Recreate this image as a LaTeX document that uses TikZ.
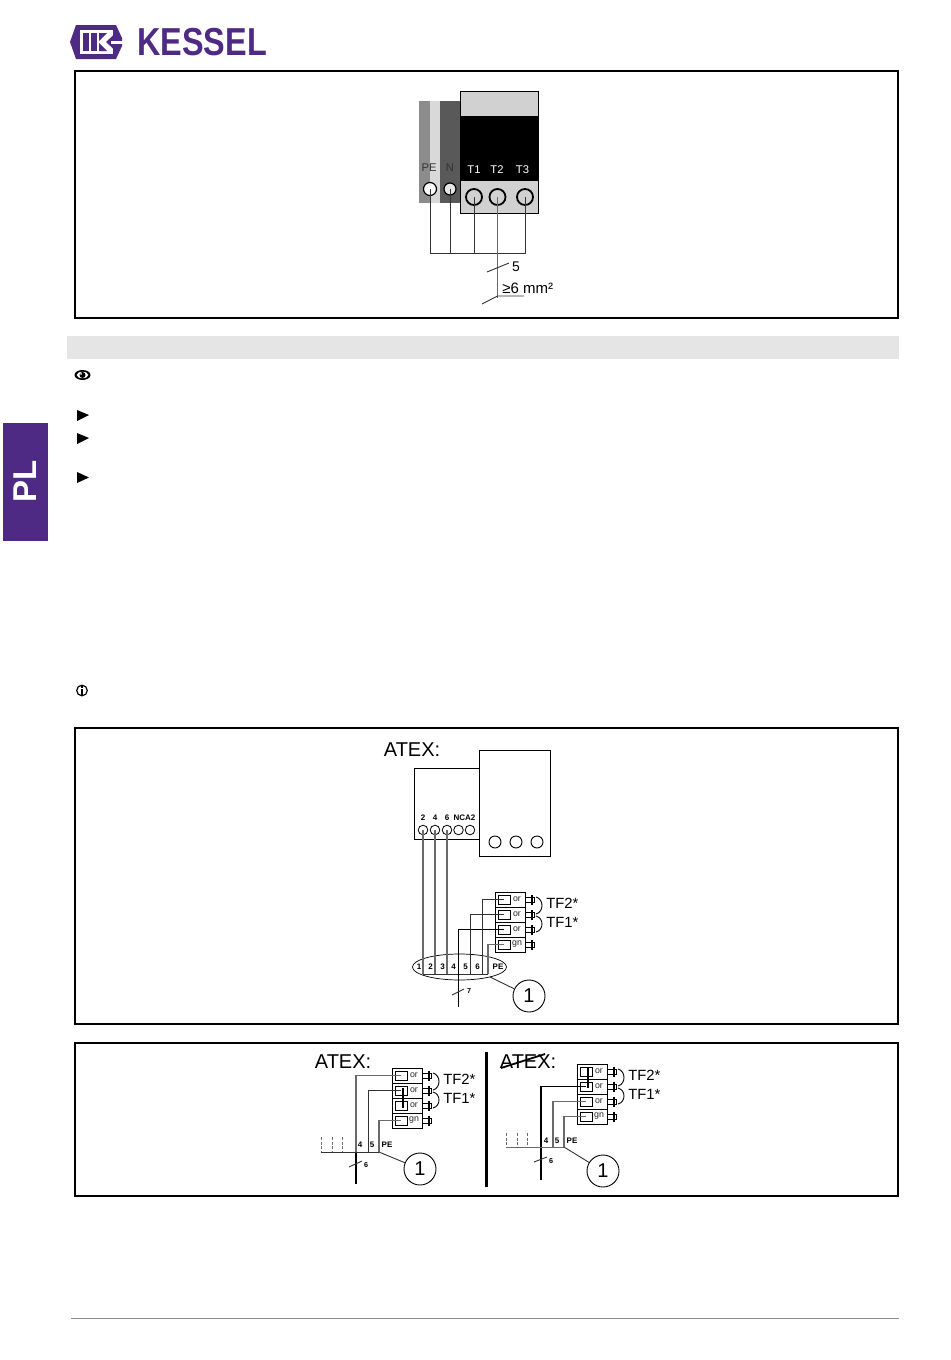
\documentclass[tikz,border=0pt]{standalone}
\usepackage{fontspec}
\usepackage{graphicx}
\usetikzlibrary{shapes.geometric}
\setmainfont{Liberation Sans}
\definecolor{kpurple}{HTML}{4E2A84}
\definecolor{wiregrey}{HTML}{6A6A6A}
\tikzset{
  frame/.style={draw=black,line width=0.75pt},
  wire/.style={draw=black!80,line width=0.45pt},
  greywire/.style={draw=wiregrey,line width=0.6pt},
  heavywire/.style={draw=black,line width=0.75pt},
  smalllabel/.style={font=\bfseries\fontsize{4}{5}\selectfont,inner sep=0pt},
  cell/.style={font=\fontsize{4.4}{5}\selectfont,text=black!85,inner sep=0pt},
  tflabel/.style={font=\fontsize{7.4}{9}\selectfont,inner sep=0pt,anchor=west},
  atex/.style={font=\fontsize{10}{12}\selectfont,inner sep=0pt,anchor=west},
  ref/.style={circle,draw=black,line width=0.45pt,fill=white,minimum size=16pt,inner sep=0pt,font=\fontsize{10}{12}\selectfont},
  bigterm/.style={circle,draw=black,line width=0.9pt,fill=black!18,minimum size=8pt,inner sep=0pt},
  smallterm/.style={circle,draw=black,line width=0.4pt,fill=white,minimum size=4.8pt,inner sep=0pt},
  plainterm/.style={circle,draw=black,line width=0.6pt,fill=white,minimum size=6pt,inner sep=0pt},
  tlabel/.style={font=\fontsize{5.6}{7}\selectfont,inner sep=0pt,text=white},
  bullet/.style={fill=black}
}
% sensor block: name, left x, top y
\newcommand{\sblock}[3]{%
  \begin{scope}[shift={(#2,#3)}]
    \draw[line width=0.45pt,fill=white] (0,0) rectangle (30,60);
    \foreach \k in {15,30,45} \draw[line width=0.4pt] (0,\k) -- (30,\k);
    \foreach \k/\t in {0/or,15/or,30/or,45/gn}{
      \draw[line width=0.45pt,fill=white] (3.5,\k+3) rectangle (15,\k+12);
      \node[cell] at (22,\k+7) {\t};
      \draw[line width=0.4pt] (30,\k+5) rectangle (36,\k+10);
      \draw[line width=1pt] (37,\k+2.5) -- (37,\k+12.5);
      \draw[line width=0.4pt] (37,\k+5) -- (39.5,\k+5) -- (39.5,\k+10) -- (37,\k+10);
    }
    \coordinate (#1-1) at (9,7.5);
    \coordinate (#1-2) at (9,22.5);
    \coordinate (#1-3) at (9,37.5);
    \coordinate (#1-4) at (9,52.5);
    \draw[line width=0.45pt] (41,5) .. controls (49,7) and (49,20) .. (41,22);
    \draw[line width=0.45pt] (41,24) .. controls (49,26) and (49,38) .. (41,40);
    \node[tflabel] at (51,11) {TF2*};
    \node[tflabel] at (51,30.5) {TF1*};
  \end{scope}
}
\begin{document}
\begin{tikzpicture}[x=0.5pt,y=-0.5pt]
\useasboundingbox (0,0) rectangle (950,1360);
\fill[white] (0,0) rectangle (950,1360);

% ---------- logo
\fill[kpurple] (70,42) -- (76,25) -- (116,25) -- (122,38) -- (122,46) -- (116,59) -- (76,59) -- cycle;
\fill[white] (80,30) rectangle (113,54);
\fill[kpurple] (83,33) rectangle (88.5,51);
\fill[kpurple] (91,33) rectangle (97,51);
\fill[kpurple] (99,33) -- (107,33) -- (99,41) -- cycle;
\fill[kpurple] (99,51) -- (107,51) -- (99,43) -- cycle;
\fill[kpurple] (113.5,35) -- (106,42) -- (113.5,49) -- cycle;
\fill[white] (111,41) rectangle (122.5,43.5);
\node[inner sep=0pt,anchor=west,text=kpurple] (logotext) at (137,42.5) {\scalebox{0.83}[1]{\bfseries\fontsize{19.5}{22}\selectfont KESSEL}};

% ---------- frames and bars
\draw[frame] (75,71) rectangle (898,318);
\fill[black!10] (67,336) rectangle (899,359);
\draw[frame] (75,728) rectangle (898,1024);
\draw[frame] (75,1043) rectangle (898,1196);
\draw[black!45,line width=0.3pt] (71,1318) -- (899,1318);

% ---------- tab
\fill[kpurple] (3,423) rectangle (48,541);
\node[rotate=90,text=white,inner sep=0pt,font=\bfseries\fontsize{16.5}{18}\selectfont] (tab) at (25,481) {PL};

% ---------- icons
\fill[black] (82.5,375) ellipse (8 and 5);
\fill[white] (82.5,375) ellipse (5.8 and 3.2);
\fill[black] (82.5,375) circle (3);
\fill[white] (81,373.8) circle (1);
\fill[bullet] (77,410) -- (89,415) -- (77,421) -- cycle;
\fill[bullet] (77,433) -- (89,438) -- (77,444) -- cycle;
\fill[bullet] (77,472) -- (89,477.5) -- (77,483) -- cycle;
\draw[black,line width=0.6pt] (82,690.5) circle (5.3);
\fill[black] (81,685.5) rectangle (83.2,687.5);
\fill[black] (81,688.5) rectangle (83.2,695);

% ---------- terminal block, frame 1
\fill[black!45] (419,101) rectangle (430,203);
\fill[black!15] (430,101) rectangle (440,203);
\fill[black!65] (440,101) rectangle (461,203);
\fill[black!18] (461,91) rectangle (538.5,116);
\fill[black] (461,116) rectangle (538.5,181);
\fill[black!18] (461,181) rectangle (538.5,213);
\draw[line width=0.45pt] (460.5,91) rectangle (538.5,213);
\node[plainterm,minimum size=6.5pt] (pe) at (430,189) {};
\node[plainterm,fill=black!10] (n) at (450,189) {};
\node[bigterm] (t1) at (474,197) {};
\node[bigterm] (t2) at (497.5,197) {};
\node[bigterm] (t3) at (525,197) {};
\node[tlabel,text=black!80] at (429,168) {PE};
\node[tlabel,text=black!80] at (450,168) {N};
\node[tlabel] at (474,170) {T1};
\node[tlabel] at (497,170) {T2};
\node[tlabel] at (522.5,170) {T3};
\coordinate (bus1l) at (430,253);
\coordinate (bus1r) at (525,253);
\coordinate (t2end) at (497.5,298);
\coordinate (tick5a) at (487,272);
\coordinate (tick5b) at (509,263);
\coordinate (tick6a) at (482,304);
\coordinate (tick6b) at (497.5,296);
\coordinate (under6) at (524,296);
\draw[wire,line width=0.5pt] (pe.center) |- (bus1r) -- (t3.center);
\draw[wire,line width=0.5pt] (n.center) -- (n.center |- bus1l);
\draw[wire,line width=0.5pt] (t1.center) -- (t1.center |- bus1l);
\draw[wire,draw=wiregrey,line width=0.6pt] (t2.center) -- (t2end);
\draw[wire] (tick5a) -- (tick5b);
\draw[wire] (tick6a) -- (tick6b) -- (under6);
\node[inner sep=0pt,font=\fontsize{7}{9}\selectfont] (five) at (516,267) {5};
\node[inner sep=0pt,anchor=west,font=\fontsize{7.5}{9}\selectfont] (sqmm) at (502,288) {≥6 mm²};

% ---------- frame 2
\node[atex] (atexa) at (383.5,750) {ATEX:};
\draw[line width=0.45pt] (414,768) rectangle (480,839);
\draw[line width=0.45pt,fill=white] (479,750) rectangle (550,856);
\foreach \x/\n in {423/c2,435/c4,447/c6,458.5/cn,470/ca}
  \node[smallterm] (\n) at (\x,830) {};
\foreach \x/\n in {495/d1,516/d2,537/d3}
  \node[circle,draw=black,line width=0.45pt,minimum size=6pt,inner sep=0pt] (\n) at (\x,842) {};
\node[smalllabel] at (423,818) {2};
\node[smalllabel] at (435,818) {4};
\node[smalllabel] at (447,818) {6};
\node[smalllabel] at (464.5,818) {NCA2};
\sblock{sa}{495}{892}
\node[ellipse,draw=black,line width=0.35pt,minimum width=47pt,minimum height=13pt,inner sep=0pt] (ell) at (459.5,967) {};
\foreach \x/\t in {419/1,430.5/2,442.5/3,453.5/4,465.5/5,477.5/6,498/PE}
  \node[smalllabel] at (\x,967) {\t};
\coordinate (e2) at (423,974);
\coordinate (e4) at (435,974);
\coordinate (e6) at (447,974);
\coordinate (e8) at (458.5,1007);
\coordinate (e10) at (470,974);
\coordinate (e12) at (482,974);
\coordinate (e14) at (488,974);
\draw[greywire] (c2.center) -- (e2);
\draw[greywire] (c4.center) -- (e4);
\draw[greywire] (c6.center) -- (e6);
\draw[wire] (e2) -- (e14);
\draw[heavywire,line width=0.55pt] (e8) |- (sa-3);
\draw[wire] (e10) |- (sa-2);
\draw[wire] (e12) |- (sa-1);
\draw[greywire] (e14) |- (sa-4);
\coordinate (tick7a) at (452,995);
\coordinate (tick7b) at (464,989);
\draw[wire] (tick7a) -- (tick7b);
\node[smalllabel,font=\bfseries\fontsize{3.6}{4}\selectfont] at (469,991.5) {7};
\node[ref] (r1) at (529,996) {1};
\coordinate (leada) at (490,977);
\draw[wire] (leada) -- (r1);

% ---------- frame 3, left
\node[atex] (atexb) at (314.5,1062) {ATEX:};
\draw[line width=1.2pt] (486.5,1052) -- (486.5,1187);
\sblock{sb}{392}{1068}
\coordinate (b4) at (356,1152);
\coordinate (b5) at (368,1152);
\coordinate (bpe) at (379,1152);
\coordinate (b0) at (321,1152);
\coordinate (bend) at (356,1184);
\draw[greywire] (b4) |- (sb-1);
\draw[wire] (b5) |- (sb-2);
\draw[greywire] (bpe) |- (sb-4);
\draw[heavywire,line width=0.7pt] (b4) -- (bend);
\draw[wire,line width=0.5pt] (b0) -- (bpe);
\foreach \x in {321,332,342}
  \draw[wire,draw=wiregrey,dash pattern=on 1.5pt off 0.8pt] (\x,1137) -- (\x,1152);
\draw[line width=1.1pt] (403,1088) -- (403,1108);
\node[smalllabel] at (360,1145) {4};
\node[smalllabel] at (372,1145) {5};
\node[smalllabel] at (387,1145) {PE};
\coordinate (tick6c) at (349,1167);
\coordinate (tick6d) at (362,1161);
\draw[wire] (tick6c) -- (tick6d);
\node[smalllabel,font=\bfseries\fontsize{3.6}{4}\selectfont] at (366,1165) {6};
\node[ref] (r2) at (420,1169) {1};
\draw[wire] (bpe) -- (r2);

% ---------- frame 3, right
\node[atex] (atexc) at (499.5,1062) {ATEX:};
\coordinate (stra) at (501,1068);
\coordinate (strb) at (545,1054);
\draw[line width=0.9pt] (stra) -- (strb);
\sblock{sc}{577}{1064}
\coordinate (f4) at (541,1147);
\coordinate (f5) at (553,1147);
\coordinate (fpe) at (564,1147);
\coordinate (f0) at (506,1147);
\coordinate (fend) at (541,1180);
\draw[heavywire,line width=0.55pt] (fend) |- (sc-2);
\draw[greywire] (f5) |- (sc-3);
\draw[greywire] (fpe) |- (sc-4);
\draw[wire,line width=0.5pt,draw=wiregrey] (f0) -- (fpe);
\foreach \x in {506,517,527}
  \draw[wire,dash pattern=on 1.5pt off 0.8pt,draw=wiregrey] (\x,1133) -- (\x,1147);
\draw[line width=1.1pt] (588,1068) -- (588,1088);
\node[smalllabel] at (546,1141) {4};
\node[smalllabel] at (557,1141) {5};
\node[smalllabel] at (572,1141) {PE};
\coordinate (tick6e) at (534,1162);
\coordinate (tick6f) at (547,1157);
\draw[wire] (tick6e) -- (tick6f);
\node[smalllabel,font=\bfseries\fontsize{3.6}{4}\selectfont] at (551,1161) {6};
\node[ref] (r3) at (603,1171) {1};
\draw[wire] (fpe) -- (r3);
\end{tikzpicture}
\end{document}
